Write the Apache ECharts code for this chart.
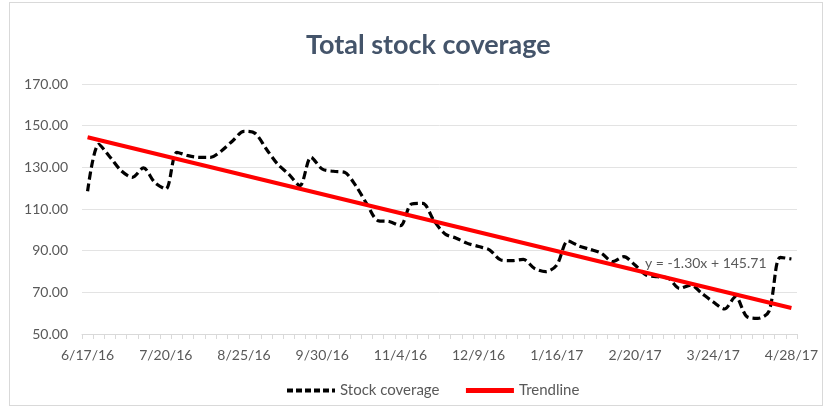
<!DOCTYPE html>
<html lang="en" style="height: 100%">
<head>
  <meta charset="utf-8">
  <script type="text/javascript" src="https://cdn.jsdelivr.net/npm/echarts@6/dist/echarts.min.js"></script>
</head>
<body style="height: 100%; margin: 0; background: #fff">
  <div id="main" style="height: 412px; width: 827px"></div>
  <div style="position:absolute; left:9px; top:2px; width:812px; height:402px; border:1px solid #d9d9d9; pointer-events:none"></div>

  <script type="text/javascript">
    // one entry per observation, roughly every 5 days
    var dates = [
      '6/17/16','6/22/16','6/27/16','7/1/16','7/6/16','7/11/16','7/15/16',
      '7/20/16','7/25/16','7/30/16','8/5/16','8/10/16','8/15/16','8/20/16',
      '8/25/16','8/30/16','9/5/16','9/10/16','9/15/16','9/20/16','9/25/16',
      '9/30/16','10/5/16','10/10/16','10/15/16','10/20/16','10/25/16','10/30/16',
      '11/4/16','11/9/16','11/14/16','11/19/16','11/24/16','11/29/16','12/4/16',
      '12/9/16','12/14/16','12/19/16','12/24/16','12/29/16','1/3/17','1/9/17',
      '1/16/17','1/21/17','1/26/17','1/31/17','2/5/17','2/10/17','2/15/17',
      '2/20/17','2/24/17','2/28/17','3/5/17','3/10/17','3/15/17','3/20/17',
      '3/24/17','3/29/17','4/3/17','4/8/17','4/13/17','4/18/17','4/23/17',
      '4/28/17'
    ];

    var stockCoverage = [
      118.5, 141.0, 135.0, 128.4, 125.2, 129.7, 122.8,
      119.6, 137.2, 135.6, 134.8, 134.8, 138.0, 142.8,
      147.3, 146.3, 138.8, 131.6, 126.8, 121.2, 134.8,
      129.2, 128.1, 127.6, 121.2, 112.4, 104.4, 104.0,
      102.0, 112.4, 112.7, 104.4, 98.0, 96.0, 93.5,
      92.0, 90.3, 85.5, 85.2, 85.8, 81.5, 79.9,
      83.1, 94.7, 92.2, 90.6, 88.7, 84.7, 87.1,
      83.1, 78.3, 77.5, 76.7, 71.9, 73.5, 69.4,
      65.4, 62.0, 67.9, 58.4, 57.5, 61.0, 86.8,
      86.0
    ];

    // linear trend y = -1.30x + 145.71, at x = 1 and x = 64
    var trendStart = 144.41;
    var trendEnd = 62.51;
    var trendText = 'y = -1.30x + 145.71';

    var yTicks = { min: 50, max: 170, step: 20 };

    var trend = dates.map(function () { return null; });
    trend[0] = trendStart;
    trend[trend.length - 1] = trendEnd;

    var font = 'Lato, "Open Sans", sans-serif';
    var chart = echarts.init(document.getElementById('main'));

    var option = {
      animation: false,
      title: {
        text: 'Total stock coverage',
        left: 301,
        top: 27,
        textStyle: { fontFamily: font, fontSize: 27, fontWeight: 'bold', color: '#44546a' }
      },
      grid: { left: 82, right: 30, top: 84, bottom: 78 },
      xAxis: {
        type: 'category',
        data: dates,
        boundaryGap: true,
        axisLine: { lineStyle: { color: '#d9d9d9', width: 1 } },
        axisTick: { show: true, interval: 0, length: 5, lineStyle: { color: '#d9d9d9' } },
        axisLabel: { interval: 6, color: '#595959', fontFamily: font, fontSize: 14, margin: 14 },
        splitLine: { show: false }
      },
      yAxis: {
        type: 'value',
        min: yTicks.min,
        max: yTicks.max,
        interval: yTicks.step,
        axisLine: { show: false },
        axisTick: { show: false },
        axisLabel: {
          color: '#595959', fontFamily: font, fontSize: 14, margin: 14,
          formatter: function (v) { return v.toFixed(2); }
        },
        splitLine: { lineStyle: { color: '#e3e3e3', width: 1 } }
      },
      legend: {
        bottom: 9,
        left: 280,
        itemWidth: 48,
        itemHeight: 6,
        itemGap: 24,
        itemStyle: { color: 'transparent', borderWidth: 0 },
        textStyle: { color: '#595959', fontFamily: font, fontSize: 15 },
        data: [
          { name: 'Stock coverage', lineStyle: { width: 4, type: [6, 3] } },
          { name: 'Trendline', lineStyle: { width: 5 } }
        ]
      },
      graphic: [{
        type: 'text',
        left: 645,
        top: 256,
        style: { text: trendText, fill: '#595959', font: '14px ' + font }
      }],
      series: [
        {
          name: 'Stock coverage',
          type: 'line',
          data: stockCoverage,
          smooth: 0.3,
          symbol: 'none',
          lineStyle: { color: '#000', width: 3.2, type: [8, 4] },
          itemStyle: { color: '#000' }
        },
        {
          name: 'Trendline',
          type: 'line',
          data: trend,
          connectNulls: true,
          symbol: 'none',
          lineStyle: { color: '#ff0000', width: 4 },
          itemStyle: { color: '#ff0000' },
          z: 3
        }
      ]
    };

    chart.setOption(option);
  </script>
</body>
</html>
